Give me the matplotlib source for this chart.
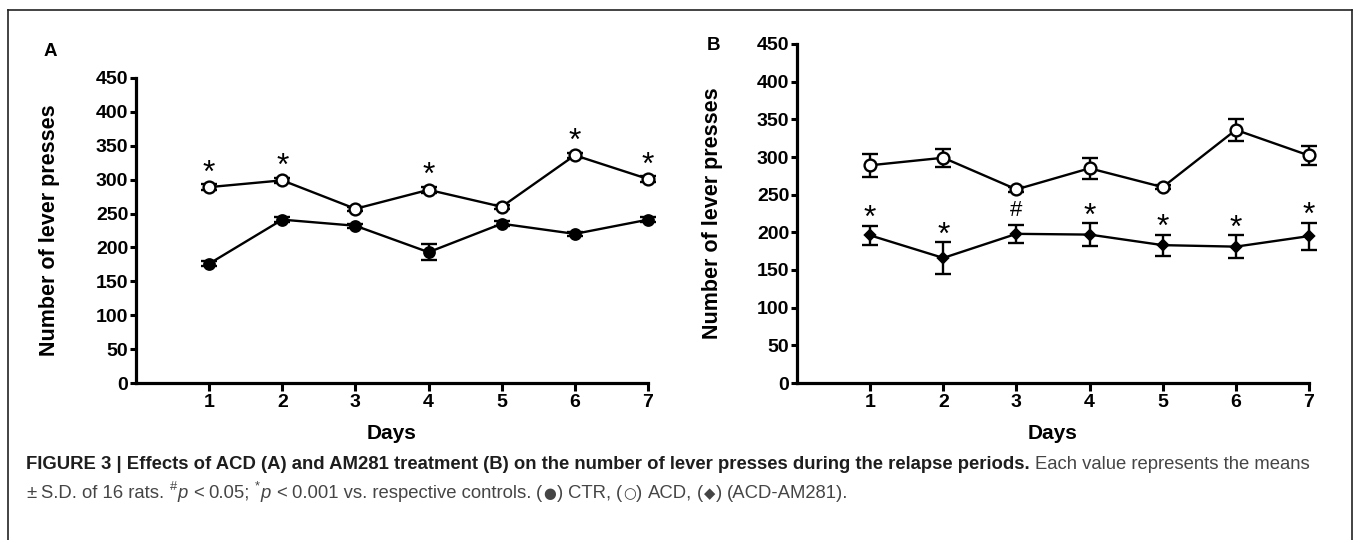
import numpy as np
import matplotlib
matplotlib.use("Agg")
import matplotlib.pyplot as plt
from matplotlib.lines import Line2D

# ---- data ----
days = [1, 2, 3, 4, 5, 6, 7]

# panel A
acd_a = [289, 299, 257, 285, 260, 336, 301]
acd_a_sd = [4, 4, 3, 4, 3, 4, 4]
ctr_a = [176, 241, 232, 193, 235, 220, 241]
ctr_a_sd = [4, 4, 3, 12, 4, 3, 4]
stars_a = ["*", "*", "", "*", "", "*", "*"]

# panel B
acd_b = [289, 299, 257, 285, 260, 336, 302]
acd_b_sd = [15, 12, 3, 14, 3, 15, 12]
am281_b = [196, 166, 198, 197, 183, 181, 195]
am281_b_sd = [13, 21, 12, 15, 14, 15, 18]
marks_b = ["*", "*", "#", "*", "*", "*", "*"]

y_ticks = [0, 50, 100, 150, 200, 250, 300, 350, 400, 450]

W, H = 1355, 540
fig = plt.figure(figsize=(W / 100, H / 100), dpi=100)
plt.rcParams["font.family"] = ["Liberation Sans", "DejaVu Sans"]


def px_axes(x0, x1, y_top, y_bot):
    return fig.add_axes([x0 / W, 1 - y_bot / H, (x1 - x0) / W, (y_bot - y_top) / H])


def style_axes(ax):
    ax.set_xlim(0, 7)
    ax.set_ylim(0, 450)
    ax.set_xticks(days)
    ax.set_yticks(y_ticks)
    for s in ["top", "right"]:
        ax.spines[s].set_visible(False)
    for s in ["left", "bottom"]:
        ax.spines[s].set_linewidth(2.3)
    ax.tick_params(axis="y", length=4.5, width=2.2, pad=1, labelsize=14)
    ax.tick_params(axis="x", length=6, width=2.2, pad=2, labelsize=14)
    for lab in ax.get_xticklabels() + ax.get_yticklabels():
        lab.set_fontweight("bold")
    ax.set_ylabel("Number of lever presses", fontsize=15.5, fontweight="bold")
    ax.set_xlabel("Days", fontsize=15, fontweight="bold", labelpad=9)
    ax.patch.set_alpha(0)


def series(ax, y, sd, marker, ms, mfc):
    ax.errorbar(days, y, yerr=sd, color="black", lw=1.7, elinewidth=1.7,
                capsize=6, capthick=1.7, marker=marker, ms=ms, mfc=mfc,
                mec="black", mew=1.7, clip_on=False, zorder=3)


# panel A
axA = px_axes(136, 648, 78, 383)
style_axes(axA)
series(axA, acd_a, acd_a_sd, "o", 8.5, "white")
series(axA, ctr_a, ctr_a_sd, "o", 7.5, "black")
for d, v, s in zip(days, acd_a, stars_a):
    if s:
        axA.annotate(s, (d, v), xytext=(0, 4), textcoords="offset points",
                     ha="center", va="baseline", fontsize=23)
axA.yaxis.set_label_coords(-0.148, 0.5)

# panel B
axB = px_axes(797, 1309, 44, 383)
style_axes(axB)
series(axB, acd_b, acd_b_sd, "o", 8.5, "white")
series(axB, am281_b, am281_b_sd, "D", 5.5, "black")
for d, v, e, s in zip(days, am281_b, am281_b_sd, marks_b):
    if s == "*":
        axB.annotate(s, (d, v + e), xytext=(0, -1), textcoords="offset points",
                     ha="center", va="baseline", fontsize=23)
    else:
        axB.annotate(s, (d, v + e), xytext=(0, 6), textcoords="offset points",
                     ha="center", va="baseline", fontsize=16)
axB.yaxis.set_label_coords(-0.145, 0.5)

fig.text(50 / W, 1 - 51 / H, "A", fontsize=13.5, fontweight="bold", ha="center", va="center")
fig.text(714 / W, 1 - 45 / H, "B", fontsize=13.5, fontweight="bold", ha="center", va="center")

# outer frame (open at the bottom, like the cropped original)
for xs, ys in [([8, 8], [10, 560]), ([8, 1352], [10, 10]), ([1352, 1352], [10, 560])]:
    fig.add_artist(Line2D([x / W for x in xs], [1 - y / H for y in ys],
                          transform=fig.transFigure, color="#222222", lw=1.2))

# ---- caption, drawn piece by piece ----
cap_line1 = [
    ("FIGURE 3 | Effects of ACD (A) and AM281 treatment (B) on the number of lever "
     "presses during the relapse periods.", "bold", True),
    ("Each value represents the means", "normal", False),
]
cap_line2 = [
    ("\u00b1", "normal", True), ("S.D. of 16 rats.", "normal", True),
    ("#", "sup", False), ("p", "italic", True), ("<", "normal", True),
    ("0.05;", "normal", True), ("*", "sup", False), ("p", "italic", True),
    ("<", "normal", True), ("0.001 vs. respective controls.", "normal", True),
    ("(", "normal", False), ("\u25cf", "normal", False), (")", "normal", True),
    ("CTR,", "normal", True), ("(", "normal", False), ("\u25cb", "normal", False),
    (")", "normal", True), ("ACD,", "normal", True), ("(", "normal", False),
    ("\u25c6", "normal", False), (")", "normal", True), ("(ACD-AM281).", "normal", False),
]

renderer = fig.canvas.get_renderer()


def draw_line(pieces, x0, y, size):
    x = x0
    arts = []
    space = size * 0.278 * 100 / 72
    for txt, kind, gap in pieces:
        kw = dict(fontsize=size, color="#454545", va="baseline", ha="left")
        yy = y
        if kind == "bold":
            kw.update(fontweight="bold", color="#1e1e1e")
        elif kind == "italic":
            kw.update(fontstyle="italic")
        elif kind == "sup":
            kw.update(fontsize=size * 0.7)
            yy = y - size * 0.45 * 100 / 72
        if txt in ("\u25cf", "\u25cb", "\u25c6"):
            kw.update(family=["DejaVu Sans"], fontsize=size * 0.8)
        t = fig.text(x / W, 1 - yy / H, txt, **kw)
        arts.append(t)
        x = t.get_window_extent(renderer).x1 + (space if gap else 0.5)
    return arts, x


size = 12.5
arts, xend = draw_line(cap_line1, 26, 470, size)
# scale font so the first line spans the same width as the original
size = size * (1313 - 26) / (xend - 26)
for a in arts:
    a.remove()
draw_line(cap_line1, 26, 469, size)
draw_line(cap_line2, 26, 498, size)

fig.savefig("out.png", dpi=100)
